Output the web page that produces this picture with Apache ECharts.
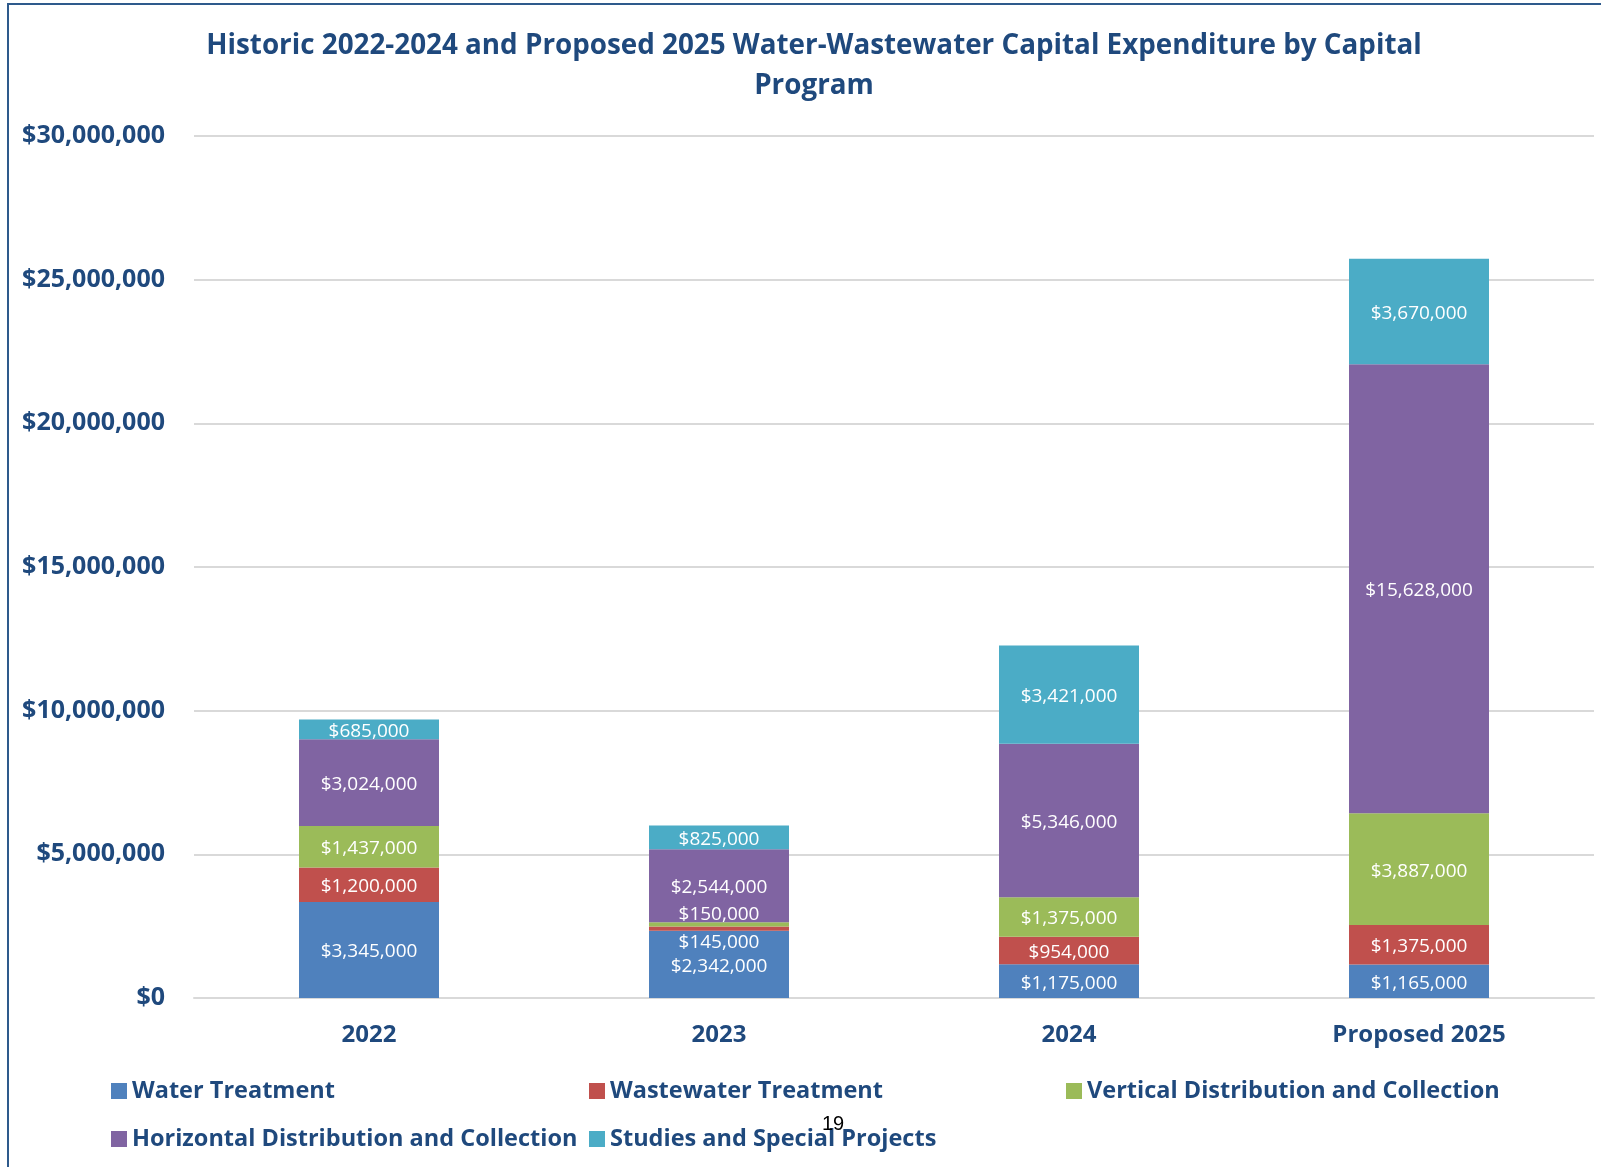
<!DOCTYPE html>
<html>
<head>
<meta charset="utf-8">
<script src="https://cdn.jsdelivr.net/npm/echarts@6/dist/echarts.min.js"></script>
<style>
  html, body { margin: 0; padding: 0; background: #fff; }
  #frame { position: absolute; left: 0; top: 0; width: 1601px; height: 1167px; }
  #edge { position: absolute; left: 7px; top: 3px; width: 1594px; height: 1164px;
          border-left: 2px solid #2E5A8C; border-top: 2px solid #2E5A8C; box-sizing: border-box; }
  #chart { position: absolute; left: 0; top: 0; width: 1601px; height: 1167px; }
</style>
</head>
<body>
<div id="frame">
  <div id="edge"></div>
  <div id="chart"></div>
</div>
<script>
// 类目与数据
const categories = ['2022', '2023', '2024', 'Proposed 2025']
const waterTreatment = [3345000, 2342000, 1175000, 1165000]
const wastewaterTreatment = [1200000, 145000, 954000, 1375000]
const verticalDistribution = [1437000, 150000, 1375000, 3887000]
const horizontalDistribution = [3024000, 2544000, 5346000, 15628000]
const studiesProjects = [685000, 825000, 3421000, 3670000]

const seriesNames = [
  'Water Treatment',
  'Wastewater Treatment',
  'Vertical Distribution and Collection',
  'Horizontal Distribution and Collection',
  'Studies and Special Projects'
]
const seriesValues = [waterTreatment, wastewaterTreatment, verticalDistribution, horizontalDistribution, studiesProjects]
const colors = ['#4F81BD', '#C0504D', '#9BBB59', '#8064A2', '#4BACC6']

// 小段标签挪开 (2023)
const labelShift = { 1: { 1: [0, 14] }, 2: { 1: [0, -10] } }

const textBlue = '#1F497D'
const fontFam = '"Open Sans", "Noto Sans", sans-serif'

const fmt = v => '$' + Math.round(v).toLocaleString('en-US')

const chart = echarts.init(document.getElementById('chart'))

const series = seriesNames.map((name, si) => ({
  name,
  type: 'bar',
  stack: 'total',
  barWidth: '40%',
  itemStyle: { color: colors[si] },
  label: {
    show: true,
    position: 'inside',
    offset: [0, 2],
    color: '#fff',
    fontFamily: fontFam,
    fontSize: 19,
    formatter: p => fmt(p.value)
  },
  data: seriesValues[si].map((v, ci) => {
    const off = labelShift[si] && labelShift[si][ci]
    return off ? { value: v, label: { offset: off } } : v
  })
}))

const legendText = { color: textBlue, fontFamily: fontFam, fontWeight: 'bold', fontSize: 23.5 }
const mkLegend = (left, names) => ({
  orient: 'vertical',
  left,
  top: 1074,
  itemGap: 24,
  itemWidth: 16,
  itemHeight: 16,
  icon: 'rect',
  textStyle: legendText,
  data: names
})

const option = {
  animation: false,
  color: colors,
  title: {
    text: 'Historic 2022-2024 and Proposed 2025 Water-Wastewater Capital Expenditure by Capital\nProgram',
    left: 809,
    textAlign: 'center',
    top: 21,
    textStyle: { color: textBlue, fontFamily: fontFam, fontWeight: 'bold', fontSize: 27.8, lineHeight: 40 }
  },
  legend: [
    mkLegend(106, [seriesNames[0], seriesNames[3]]),
    mkLegend(584, [seriesNames[1], seriesNames[4]]),
    mkLegend(1061, [seriesNames[2]])
  ],
  grid: { left: 194, right: 7, top: 136, bottom: 169, containLabel: false },
  xAxis: {
    type: 'category',
    data: categories,
    axisTick: { show: false },
    axisLine: { lineStyle: { color: '#D9D9D9', width: 2 } },
    axisLabel: { color: textBlue, fontFamily: fontFam, fontWeight: 'bold', fontSize: 24, margin: 25 }
  },
  yAxis: {
    type: 'value',
    min: 0,
    max: 30000000,
    interval: 5000000,
    axisLine: { show: false },
    axisTick: { show: false },
    splitLine: { lineStyle: { color: '#D9D9D9', width: 2 } },
    axisLabel: { color: textBlue, fontFamily: fontFam, fontWeight: 'bold', fontSize: 25, margin: 29, formatter: v => fmt(v) }
  },
  graphic: [{
    type: 'text',
    left: 822,
    top: 1114,
    z: 100,
    style: { text: '19', fill: '#000', font: '20px "Liberation Sans", Arial, sans-serif' }
  }],
  series
}

chart.setOption(option)
window.addEventListener('resize', () => chart.resize())
</script>
</body>
</html>
